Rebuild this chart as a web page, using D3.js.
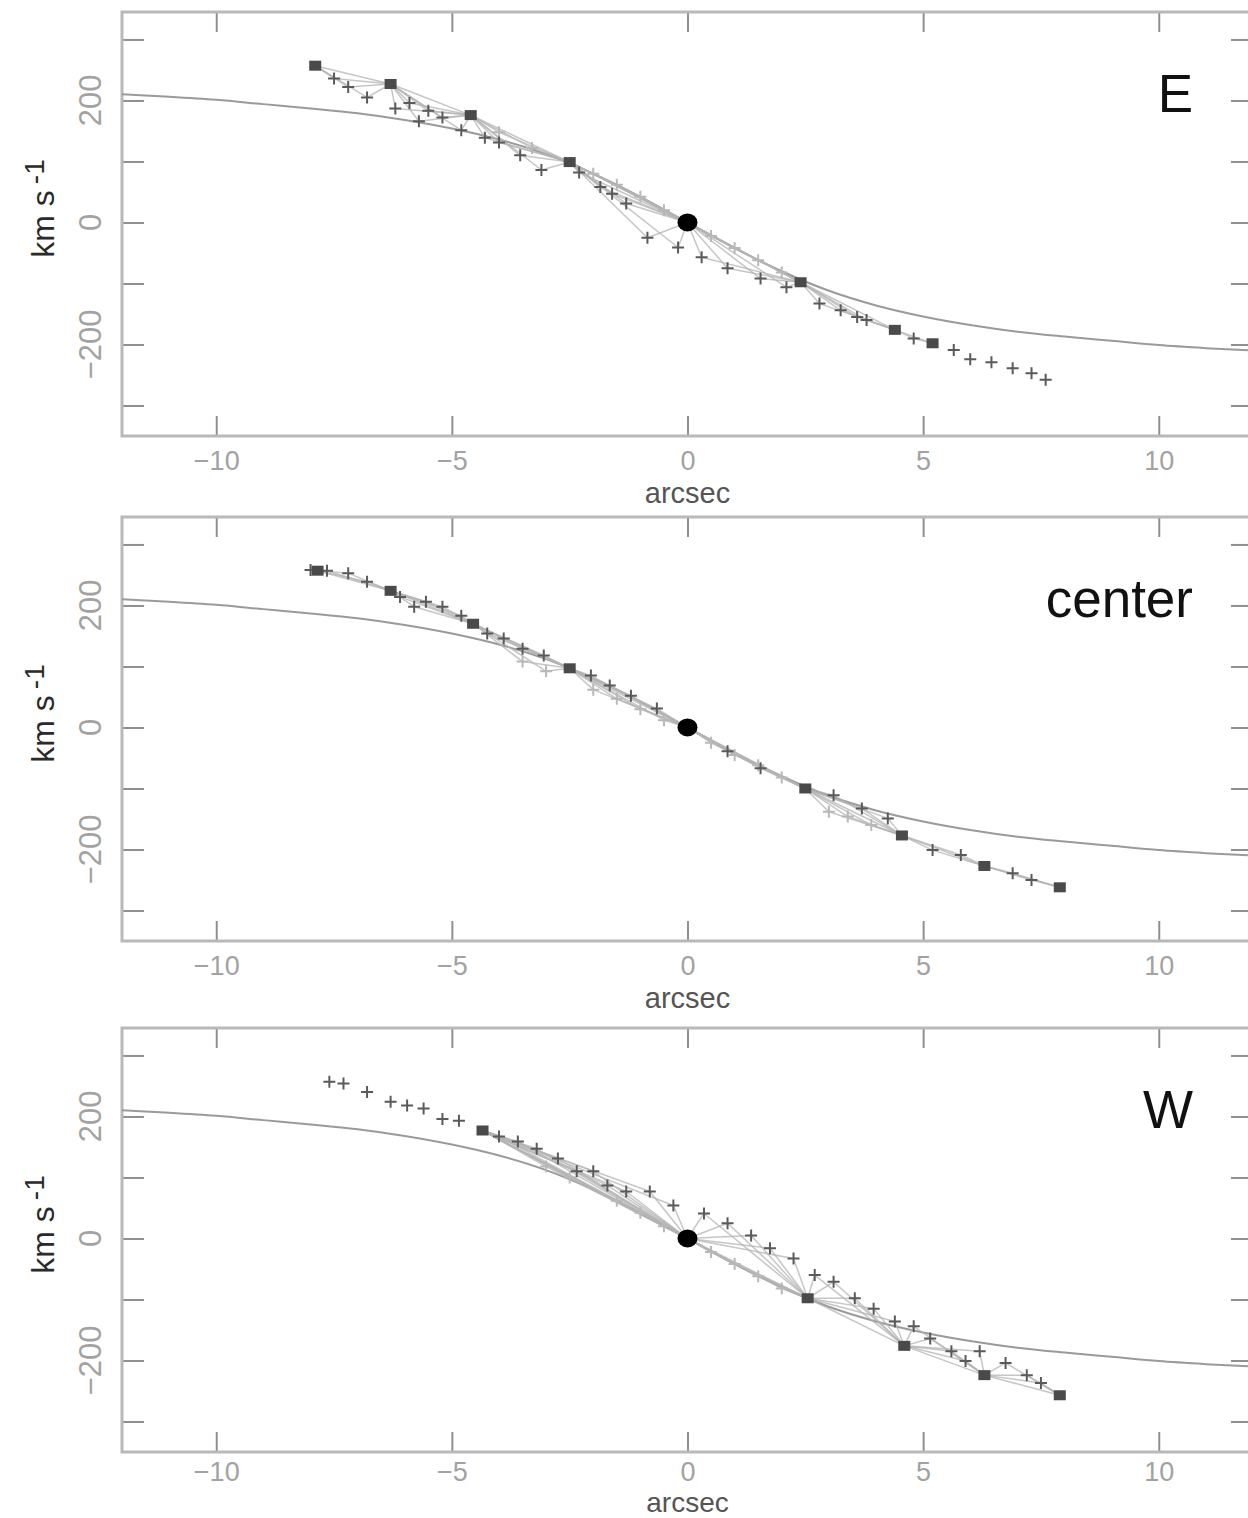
<!DOCTYPE html>
<html><head><meta charset="utf-8">
<script src="https://cdn.jsdelivr.net/npm/d3@7"></script>
<style>
body{margin:0;background:#fff}
svg{display:block}
text{font-family:"Liberation Sans",Arial,sans-serif}
</style>
</head><body>
<svg id="chart" width="1248" height="1518"></svg>
<script>
// ---------------- data ----------------
const panelNames = ["E", "center", "W"];
const xTicks = [-10, -5, 0, 5, 10];
const yMinorTicks = [-300, -200, -100, 0, 100, 200, 300];
const yLabelTicks = [-200, 0, 200];
const xLabel = "arcsec";

// model rotation curve (arcsec, km/s)
const curveX = [-12,-11,-10,-9,-8,-7,-6,-5,-4,-3,-2,-1,0,1,2,3,4,5,6,7,8,9,10,11,12];
const curveV = [210,206,201,194,187,179,168,154,136,112,80,42,0,-42,-80,-112,-136,-154,-168,-179,-187,-194,-201,-206,-210];

// central reference point
const centerPoint = [[0, 0]];

// E panel
const eDots = [[-7.9,257],[-6.3,227],[-4.6,176],[-2.5,99],[2.4,-98],[4.4,-176],[5.2,-198]];
const eCrosses = [[-7.5,236],[-7.2,222],[-6.8,205],[-6.2,187],[-5.9,196],[-5.7,166],[-5.5,183],[-5.2,172],
  [-4.8,151],[-4.3,139],[-4.0,131],[-3.55,110],[-3.1,86],[-2.3,82],[-1.85,58],[-1.6,47],[-1.3,31],
  [-0.85,-25],[-0.2,-41],[0.3,-57],[0.85,-75],[1.55,-92],[2.1,-106],[2.8,-133],[3.25,-144],[3.6,-155],
  [3.8,-160],[4.8,-190],[5.65,-209],[6.0,-224],[6.45,-229],[6.9,-239],[7.3,-247],[7.6,-258]];
const eFaint = [[-4.0,148],[-3.3,122],[-2.0,80],[-1.5,62],[-1.0,42],[-0.5,20],[0.5,-22],[1.0,-42],[1.5,-62],[2.0,-82]];

// center panel
const cDots = [[-7.85,257],[-6.3,224],[-4.55,170],[-2.5,97],[2.5,-100],[4.55,-177],[6.3,-227],[7.9,-262]];
const cCrosses = [[-8.0,258],[-7.65,257],[-7.2,253],[-6.8,239],[-6.1,214],[-5.8,198],[-5.55,206],[-5.2,198],
  [-4.8,183],[-4.25,154],[-3.9,146],[-3.5,129],[-3.05,118],[-2.05,85],[-1.65,69],[-1.2,52],[-0.65,31],
  [0.85,-39],[1.55,-67],[3.1,-111],[3.7,-133],[4.25,-149],[5.2,-201],[5.8,-209],[6.9,-239],[7.3,-250]];
const cFaint = [[-3.5,108],[-3.0,92],[-2.0,62],[-1.5,47],[-1.0,30],[-0.5,12],[0.5,-25],[1.0,-45],
  [1.5,-62],[2.0,-82],[3.0,-138],[3.4,-146],[3.9,-160]];

// W panel
const wDots = [[-4.35,177],[2.55,-98],[4.6,-176],[6.3,-224],[7.9,-257]];
const wCrosses = [[-7.6,257],[-7.3,254],[-6.8,240],[-6.3,224],[-5.95,218],[-5.6,213],[-5.2,196],[-4.85,193],
  [-4.0,167],[-3.6,159],[-3.2,147],[-2.75,131],[-2.35,110],[-2.0,110],[-1.7,87],[-1.3,77],[-0.8,77],
  [-0.3,54],[0.35,41],[0.85,25],[1.35,5],[1.75,-16],[2.25,-33],[2.7,-60],[3.1,-71],[3.55,-98],
  [3.95,-115],[4.4,-136],[4.8,-144],[5.15,-164],[5.6,-185],[5.9,-201],[6.2,-185],[6.75,-204],
  [7.2,-224],[7.5,-237]];
const wFaint = [[-3.0,118],[-2.5,100],[-1.5,62],[-1.0,42],[-0.5,20],[0.5,-22],[1.0,-42],[1.5,-62],[2.0,-82]];

const panelDots = [eDots, cDots, wDots];
const panelCrosses = [eCrosses, cCrosses, wCrosses];
const panelFaint = [eFaint, cFaint, wFaint];

// ---------------- layout ----------------
const svg = d3.select("#chart");
const left = 122, right = 1253, plotH = 424;
const tops = [12, 517, 1028];
const frameColor = "#b9b9b9";
const tickColor = "#8f8f8f";
const labelColor = "#a2a2a2";

const x = d3.scaleLinear().domain([-12, 12]).range([left, right]);
const curveData = curveX.map((d, i) => [d, curveV[i]]);

panelNames.forEach((name, p) => {
  const top = tops[p], bottom = top + plotH;
  const y = d3.scaleLinear().domain([-350, 345]).range([bottom, top]);
  const g = svg.append("g");
  const last = p === panelNames.length - 1;

  const clipId = "clip" + p;
  svg.append("clipPath").attr("id", clipId)
    .append("rect").attr("x", left).attr("y", top).attr("width", right - left).attr("height", plotH);

  // axes (ticks pointing inward)
  const axB = d3.axisBottom(x).tickValues(xTicks).tickSizeInner(-20).tickSizeOuter(0)
    .tickPadding(last ? 20 : 25).tickFormat(d => d < 0 ? "\u2212" + Math.abs(d) : d);
  const axT = d3.axisTop(x).tickValues(xTicks).tickSizeInner(-20).tickSizeOuter(0).tickFormat("");
  const axL = d3.axisLeft(y).tickValues(yMinorTicks).tickSizeInner(-22).tickSizeOuter(0).tickFormat("");
  const axR = d3.axisRight(y).tickValues(yMinorTicks).tickSizeInner(-22).tickSizeOuter(0).tickFormat("");

  const gb = g.append("g").attr("transform", `translate(0,${bottom})`).call(axB);
  g.append("g").attr("transform", `translate(0,${top})`).call(axT);
  g.append("g").attr("transform", `translate(${left},0)`).call(axL);
  g.append("g").attr("transform", `translate(${right},0)`).call(axR);
  g.selectAll(".domain").remove();
  g.selectAll(".tick line").attr("stroke", tickColor).attr("stroke-width", 2);
  gb.selectAll(".tick text").attr("font-size", 27).attr("fill", labelColor)
    .attr("font-family", "'Liberation Sans',Arial,sans-serif").attr("dy", "0.35em");

  // frame
  g.append("rect").attr("x", left).attr("y", top).attr("width", right - left).attr("height", plotH)
    .attr("fill", "none").attr("stroke", frameColor).attr("stroke-width", 3);

  // y tick labels (rotated)
  g.selectAll(".ylab").data(yLabelTicks).join("text")
    .attr("class", "ylab")
    .attr("transform", d => `translate(101,${y(d)}) rotate(-90)`)
    .attr("text-anchor", "middle")
    .attr("font-size", 31).attr("fill", labelColor)
    .text(d => d < 0 ? "\u2212" + Math.abs(d) : d);

  // y axis title
  const yt = g.append("text")
    .attr("transform", `translate(54,${y(0) - 14}) rotate(-90)`)
    .attr("text-anchor", "middle").attr("font-size", 32).attr("fill", "#2a2a2a");
  yt.append("tspan").text("km s");
  yt.append("tspan").attr("dx", 6).attr("dy", -10).attr("font-size", 28).text("-1");

  // x axis title
  g.append("text").attr("x", x(0)).attr("y", Math.min(bottom + 67, 1512))
    .attr("text-anchor", "middle").attr("font-size", last ? 28 : 29).attr("fill", "#555")
    .text(xLabel);

  // panel name
  g.append("text").attr("x", 1193).attr("y", top + 100)
    .attr("text-anchor", "end").attr("font-size", 53).attr("fill", "#111")
    .text(name);

  const plot = g.append("g").attr("clip-path", `url(#${clipId})`);

  // model curve
  plot.append("path").datum(curveData)
    .attr("fill", "none").attr("stroke", "#9a9a9a").attr("stroke-width", 2)
    .attr("d", d3.line().x(d => x(d[0])).y(d => y(d[1])).curve(d3.curveMonotoneX));

  // faint connecting fans between the bright points and the crosses
  const anchors = panelDots[p].concat(centerPoint).sort((a, b) => a[0] - b[0]);
  const segs = [];
  panelCrosses[p].concat(panelFaint[p]).forEach(c => {
    const prev = anchors.filter(a => a[0] < c[0]).pop();
    const next = anchors.find(a => a[0] > c[0]);
    if (prev && next) { segs.push([prev, c]); segs.push([c, next]); }
  });
  for (let i = 0; i + 1 < anchors.length; i++) segs.push([anchors[i], anchors[i + 1]]);
  plot.selectAll(".fan").data(segs).join("line")
    .attr("x1", d => x(d[0][0])).attr("y1", d => y(d[0][1]))
    .attr("x2", d => x(d[1][0])).attr("y2", d => y(d[1][1]))
    .attr("stroke", "#b4b4b4").attr("stroke-width", 1.5).attr("opacity", 0.75);

  // faint markers
  plot.selectAll(".faint").data(panelFaint[p]).join("path")
    .attr("transform", d => `translate(${x(d[0])},${y(d[1])})`)
    .attr("d", "M-6,0H6M0,-6V6")
    .attr("stroke", "#b8b8b8").attr("stroke-width", 2).attr("fill", "none");

  // crosses
  plot.selectAll(".cross").data(panelCrosses[p]).join("path")
    .attr("transform", d => `translate(${x(d[0])},${y(d[1])})`)
    .attr("d", "M-6,0H6M0,-6V6")
    .attr("stroke", "#5a5a5a").attr("stroke-width", 2).attr("fill", "none");

  // bright points
  plot.selectAll(".dot").data(panelDots[p]).join("rect")
    .attr("x", d => x(d[0]) - 6).attr("y", d => y(d[1]) - 5)
    .attr("width", 12).attr("height", 10)
    .attr("fill", "#4a4a4a");

  // central point
  plot.selectAll(".center").data(centerPoint).join("ellipse")
    .attr("cx", d => x(d[0])).attr("cy", d => y(d[1]))
    .attr("rx", 10).attr("ry", 9).attr("fill", "#000");
});
</script>
</body></html>
